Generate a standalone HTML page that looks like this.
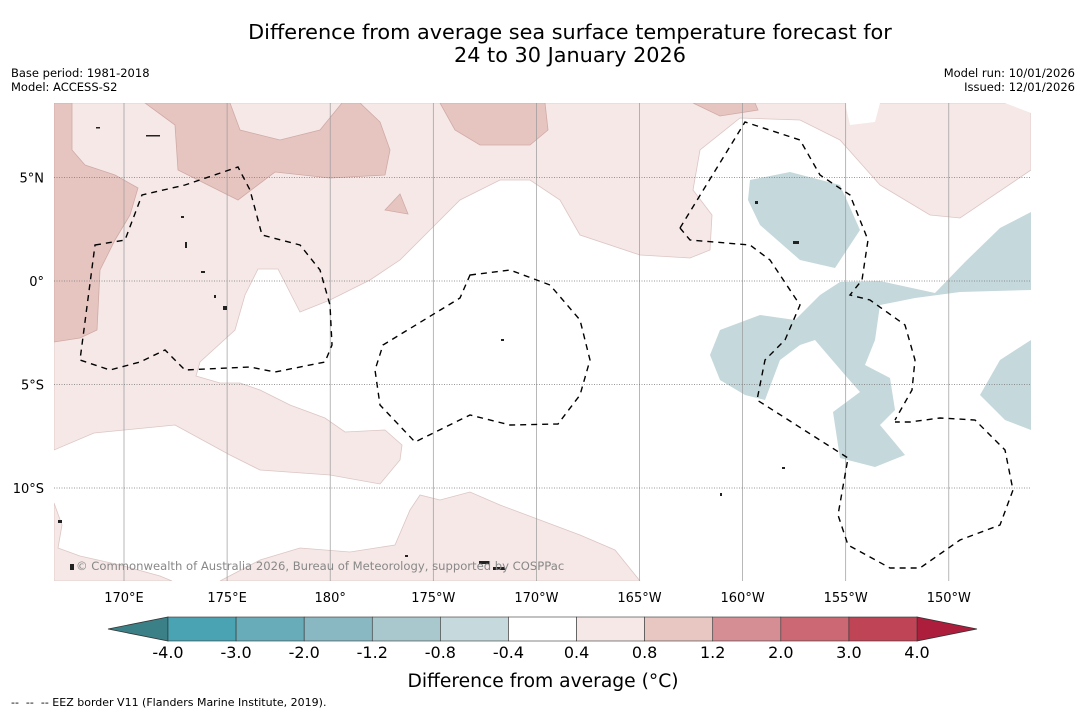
<!DOCTYPE html>
<html><head><meta charset="utf-8"><style>
body{margin:0;background:#fff;font-family:"DejaVu Sans","Liberation Sans",sans-serif;}
#wrap{position:relative;width:1085px;height:713px;overflow:hidden;background:#fff}
.t{position:absolute;color:#000;white-space:nowrap}
</style></head><body>
<div id="wrap">
<div class="t" style="left:0;width:1140px;top:21px;text-align:center;font-size:20.8px;line-height:23px">Difference from average sea surface temperature forecast for<br>24 to 30 January 2026</div>
<div class="t" style="left:11px;top:66px;font-size:11.5px;line-height:14px">Base period: 1981-2018<br>Model: ACCESS-S2</div>
<div class="t" style="right:10px;top:66px;font-size:11.5px;line-height:14px;text-align:right">Model run: 10/01/2026<br>Issued: 12/01/2026</div>
<svg id="map" width="1085" height="713" style="position:absolute;left:0;top:0">
<defs><clipPath id="mc"><rect x="54" y="103" width="977" height="478"/></clipPath></defs>
<g clip-path="url(#mc)" id="mapg">
<rect x="54" y="103" width="977" height="478" fill="#fff"/>
<path fill="#f5e8e7" stroke="#dcc6c4" stroke-width="0.8" d="M54,103 L1031,103 L1031,170 L960,218 L930,215 L880,185 L840,140 L800,120 L740,118 L700,150 L693,190 L712,215 L710,250 L690,258 L640,255 L580,235 L560,200 L530,180 L500,180 L460,200 L430,230 L400,260 L370,280 L330,300 L300,312 L278,269 L258,269 L245,295 L235,330 L200,362 L196,376 L220,383 L240,383 L260,390 L290,405 L325,418 L345,432 L385,430 L402,445 L400,460 L380,484 L330,475 L260,470 L230,455 L175,425 L94,433 L54,450 Z"/>
<path fill="#f5e8e7" stroke="#dcc6c4" stroke-width="0.8" d="M54,503 L62,525 L58,548 L80,556 L120,565 L160,576 L172,581 L54,581 Z"/>
<path fill="#f5e8e7" stroke="#dcc6c4" stroke-width="0.8" d="M220,581 L260,560 L300,548 L350,552 L395,545 L410,510 L420,495 L440,500 L470,492 L500,505 L540,520 L580,535 L615,550 L640,581 Z"/>
<path fill="#e6c5c1" stroke="#d0aaa6" stroke-width="0.8" d="M54,103 L72,103 L72,150 L85,165 L115,175 L138,188 L130,215 L115,240 L100,270 L97,330 L80,338 L54,342 Z"/>
<path fill="#e6c5c1" stroke="#d0aaa6" stroke-width="0.8" d="M145,103 L230,103 L240,130 L280,140 L320,130 L342,103 L360,103 L380,122 L390,150 L385,175 L330,178 L275,172 L238,200 L178,170 L175,125 Z"/>
<path fill="#e6c5c1" stroke="#d0aaa6" stroke-width="0.8" d="M385,210 L400,194 L408,214 Z"/>
<path fill="#e6c5c1" stroke="#d0aaa6" stroke-width="0.8" d="M440,103 L545,103 L548,130 L530,145 L480,145 L455,130 Z"/>
<path fill="#e6c5c1" stroke="#d0aaa6" stroke-width="0.8" d="M693,103 L755,103 L758,110 L720,116 Z"/>
<path fill="#fff" d="M845,103 L880,103 L875,122 L850,125 Z M1005,103 L1031,103 L1031,113 Z"/>
<path fill="#c5d8db" d="M750,180 L790,172 L840,185 L860,230 L835,268 L800,260 L760,225 L748,200 Z"/>
<path fill="#c5d8db" d="M710,355 L720,330 L760,315 L795,320 L820,295 L840,282 L880,281 L935,293 L965,262 L1000,228 L1031,212 L1031,290 L960,292 L915,298 L880,305 L875,340 L865,365 L890,378 L895,410 L880,425 L905,455 L875,467 L840,458 L833,412 L860,392 L845,375 L815,340 L800,345 L780,360 L765,400 L745,395 L720,380 Z"/>
<path fill="#c5d8db" d="M980,395 L1000,360 L1031,340 L1031,430 L1005,420 Z"/>
<g id="grid"></g>
<g fill="none" stroke="#000" stroke-width="1.4" stroke-dasharray="6,5">
<path d="M95,245 L125,240 L142,195 L185,185 L238,167 L250,190 L262,235 L300,245 L320,270 L330,305 L332,345 L325,362 L275,372 L250,367 L185,370 L165,350 L140,362 L110,370 L80,360 Z"/>
<path d="M470,275 L510,270 L550,285 L580,320 L590,360 L580,395 L558,424 L510,425 L470,415 L415,442 L380,405 L375,370 L383,345 L460,298 Z"/>
<path d="M680,228 L745,122 L800,140 L820,175 L850,195 L868,240 L862,280 L850,295 L870,300 L905,325 L915,360 L912,390 L895,420"/>
<path d="M680,228 L690,240 L750,245 L770,260 L800,305 L785,340 L765,360 L757,400 L848,458 L838,515 L848,545 L890,568 L920,568 L960,540 L1000,525 L1013,490 L1005,450 L975,420 L940,418 L910,422 L895,422"/>
</g>
<g fill="#222">
<rect x="96" y="127" width="4" height="1.5"/><rect x="146" y="135" width="14" height="1.5"/><rect x="181" y="216" width="3" height="2"/><rect x="185" y="242" width="2" height="6"/><rect x="201" y="271" width="4" height="2"/><rect x="214" y="295" width="2" height="3"/><rect x="223" y="306" width="4" height="4"/><rect x="755" y="201" width="3" height="3"/><rect x="793" y="241" width="6" height="3"/><rect x="501" y="339" width="3" height="2"/><rect x="479" y="561" width="10" height="3"/><rect x="493" y="567" width="12" height="3"/><rect x="405" y="555" width="3" height="2"/><rect x="58" y="520" width="4" height="3"/><rect x="70" y="564" width="4" height="6"/><rect x="782" y="467" width="3" height="2"/><rect x="720" y="493" width="2" height="3"/>
</g>
</g>
<text x="76" y="570" font-size="11.6" fill="#888" font-family="DejaVu Sans, sans-serif">© Commonwealth of Australia 2026, Bureau of Meteorology, supported by COSPPac</text>
<g id="axes" font-family="DejaVu Sans, sans-serif" font-size="13" fill="#000"></g>
<g id="cbar" font-family="DejaVu Sans, sans-serif"></g>
<text x="543" y="687" font-size="18.7" text-anchor="middle" font-family="DejaVu Sans, sans-serif">Difference from average (°C)</text>
<text x="11" y="706" font-size="11" font-family="DejaVu Sans, sans-serif" style="white-space:pre">--  --  -- EEZ border V11 (Flanders Marine Institute, 2019).</text>
</svg>
</div>
<script>
const lonTicks=[170,175,180,185,190,195,200,205,210];
const lonLabels=["170°E","175°E","180°","175°W","170°W","165°W","160°W","155°W","150°W"];
const latTicks=[5,0,-5,-10];
const latLabels=["5°N","0°","5°S","10°S"];
const cbarLevels=[-4.0,-3.0,-2.0,-1.2,-0.8,-0.4,0.4,0.8,1.2,2.0,3.0,4.0];
const cbarColors=["#4aa3b2","#68acb9","#89b8c3","#a9c8cd","#c6d9dc","#ffffff","#f5e8e7","#e8c7c2","#d68e95","#cc6873","#bf4556"];
const cbarLowExt="#3c8087", cbarHighExt="#ad1d3c";
const NS="http://www.w3.org/2000/svg";
function xLon(l){return 124+(l-170)*20.62;}
function yLat(l){return 281-l*20.7;}
function mk(tag,attrs,parent){const e=document.createElementNS(NS,tag);for(const k in attrs)e.setAttribute(k,attrs[k]);parent.appendChild(e);return e;}
const grid=document.getElementById('grid'),axes=document.getElementById('axes');
lonTicks.forEach((l,i)=>{
  const x=xLon(l);
  const ln=mk('line',{x1:x,x2:x,y1:103,y2:581,stroke:'#999','stroke-width':0.7},grid);
  
  
  const t=mk('text',{x:x,y:602,'text-anchor':'middle'},axes);
  t.textContent=lonLabels[i];
  
  
});
latTicks.forEach((l,i)=>{
  const y=yLat(l);
  const ln=mk('line',{x1:54,x2:1031,y1:y,y2:y,stroke:'#777','stroke-width':0.7,'stroke-dasharray':'1,1.5'},grid);
  
  
  const t=mk('text',{x:44,y:y+5,'text-anchor':'end'},axes);
  t.textContent=latLabels[i];
  
  
});
const cb=document.getElementById('cbar');
const cx0=168,cx1=917,cy=617,ch=24,n=cbarColors.length,w=(cx1-cx0)/n;
function cbX(i){return cx0+i*w;}
const lo=mk('polygon',{points:`${cx0},${cy} ${cx0},${cy+ch} 108,${cy+ch/2}`,fill:cbarLowExt,stroke:'#333','stroke-width':0.8},cb);


const hi=mk('polygon',{points:`${cx1},${cy} ${cx1},${cy+ch} 977,${cy+ch/2}`,fill:cbarHighExt,stroke:'#333','stroke-width':0.8},cb);


cbarColors.forEach((c,i)=>{
  const r=mk('rect',{x:cbX(i),y:cy,width:w,height:ch,fill:c,stroke:'#333','stroke-width':0.6},cb);
  
  
});
cbarLevels.forEach((v,i)=>{
  const t=mk('text',{x:cbX(i),y:658,'text-anchor':'middle','font-size':16},cb);
  t.textContent=v.toFixed(1);
  
  
});
</script>
</body></html>
